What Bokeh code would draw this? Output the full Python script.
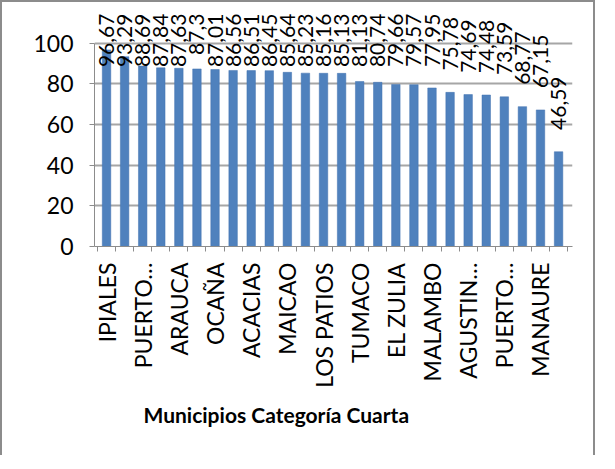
import numpy as np
from bokeh.plotting import figure
from bokeh.models import Range1d, FixedTicker, ColumnDataSource, Title
from bokeh.core.properties import value
from bokeh.embed import file_html
from bokeh.resources import INLINE

# ---- data ----
categories = ["IPIALES", "", "PUERTO…", "", "ARAUCA", "", "OCAÑA", "", "ACACIAS", "",
              "MAICAO", "", "LOS PATIOS", "", "TUMACO", "", "EL ZULIA", "", "MALAMBO", "",
              "AGUSTIN…", "", "PUERTO…", "", "MANAURE", ""]
values = [96.67, 93.29, 88.69, 87.84, 87.63, 87.3, 87.01, 86.56, 86.51, 86.45,
          85.64, 85.23, 85.16, 85.13, 81.13, 80.74, 79.66, 79.57, 77.95, 75.78,
          74.69, 74.48, 73.59, 68.77, 67.15, 46.59]
y_ticks = [0, 20, 40, 60, 80, 100]
axis_title = "Municipios Categoría Cuarta"

FONT = "Lato"

x = np.arange(1, len(values) + 1)
vals = np.array(values)
texts = [("%g" % v).replace(".", ",") for v in values]
# labels sit above the bars but are pushed down by the top of the chart area
label_top = np.minimum(vals + 37, 114.5)

src = ColumnDataSource(dict(x=x, v=vals, t=texts, ly=label_top))

p = figure(frame_width=478, frame_height=240, output_backend="svg", toolbar_location=None,
           x_range=Range1d(0.334, 26.77), y_range=Range1d(0, 118),
           min_border_left=92, min_border_right=21, min_border_top=4, min_border_bottom=209)
p.styles = {"border-top": "2px solid #8c8c8c", "border-left": "2px solid #8c8c8c",
            "border-right": "2px solid #8c8c8c", "box-sizing": "border-box"}
p.outline_line_color = None
p.background_fill_color = "white"

p.vbar(x="x", top="v", bottom=0, width=0.47, source=src,
       fill_color="#4f81bd", line_color="#4273b0", line_width=0.5)

p.text(x="x", y="ly", text="t", source=src, angle=np.pi / 2,
       text_align="right", text_baseline="middle",
       text_font=value(FONT), text_font_size="21px", text_color="black")

# y axis
p.yaxis.ticker = FixedTicker(ticks=y_ticks)
p.yaxis.bounds = (0, 100)
p.yaxis.axis_line_color = "#8c8c8c"
p.yaxis.major_tick_line_color = "#8c8c8c"
p.yaxis.major_tick_out = 5
p.yaxis.major_tick_in = 0
p.yaxis.minor_tick_line_color = None
p.yaxis.major_label_text_font = FONT
p.yaxis.major_label_text_font_size = "23px"
p.yaxis.major_label_text_color = "black"
p.yaxis.major_label_standoff = 16

# x axis
p.xaxis.ticker = FixedTicker(ticks=list(x), minor_ticks=list(np.arange(0.5, len(values) + 1, 1.0)))
p.xaxis.major_label_overrides = {int(i): c for i, c in zip(x, categories)}
p.xaxis.major_label_orientation = np.pi / 2
p.xaxis.axis_line_color = "#8c8c8c"
p.xaxis.major_tick_line_color = None
p.xaxis.major_tick_out = 0
p.xaxis.major_tick_in = 0
p.xaxis.minor_tick_line_color = "#8c8c8c"
p.xaxis.minor_tick_out = 5
p.xaxis.minor_tick_in = 0
p.xaxis.major_label_text_font = FONT
p.xaxis.major_label_text_font_size = "23px"
p.xaxis.major_label_text_color = "black"
p.xaxis.major_label_standoff = 11

# grid
p.xgrid.visible = False
p.ygrid.ticker = FixedTicker(ticks=y_ticks)
p.ygrid.grid_line_color = "#a6a6a6"
p.ygrid.grid_line_width = 2

p.add_layout(Title(text=axis_title, align="left", offset=49, standoff=19,
                   text_font=FONT, text_font_size="21px", text_font_style="bold",
                   text_color="black"), "below")

open("out.html", "w").write(file_html(p, INLINE))
